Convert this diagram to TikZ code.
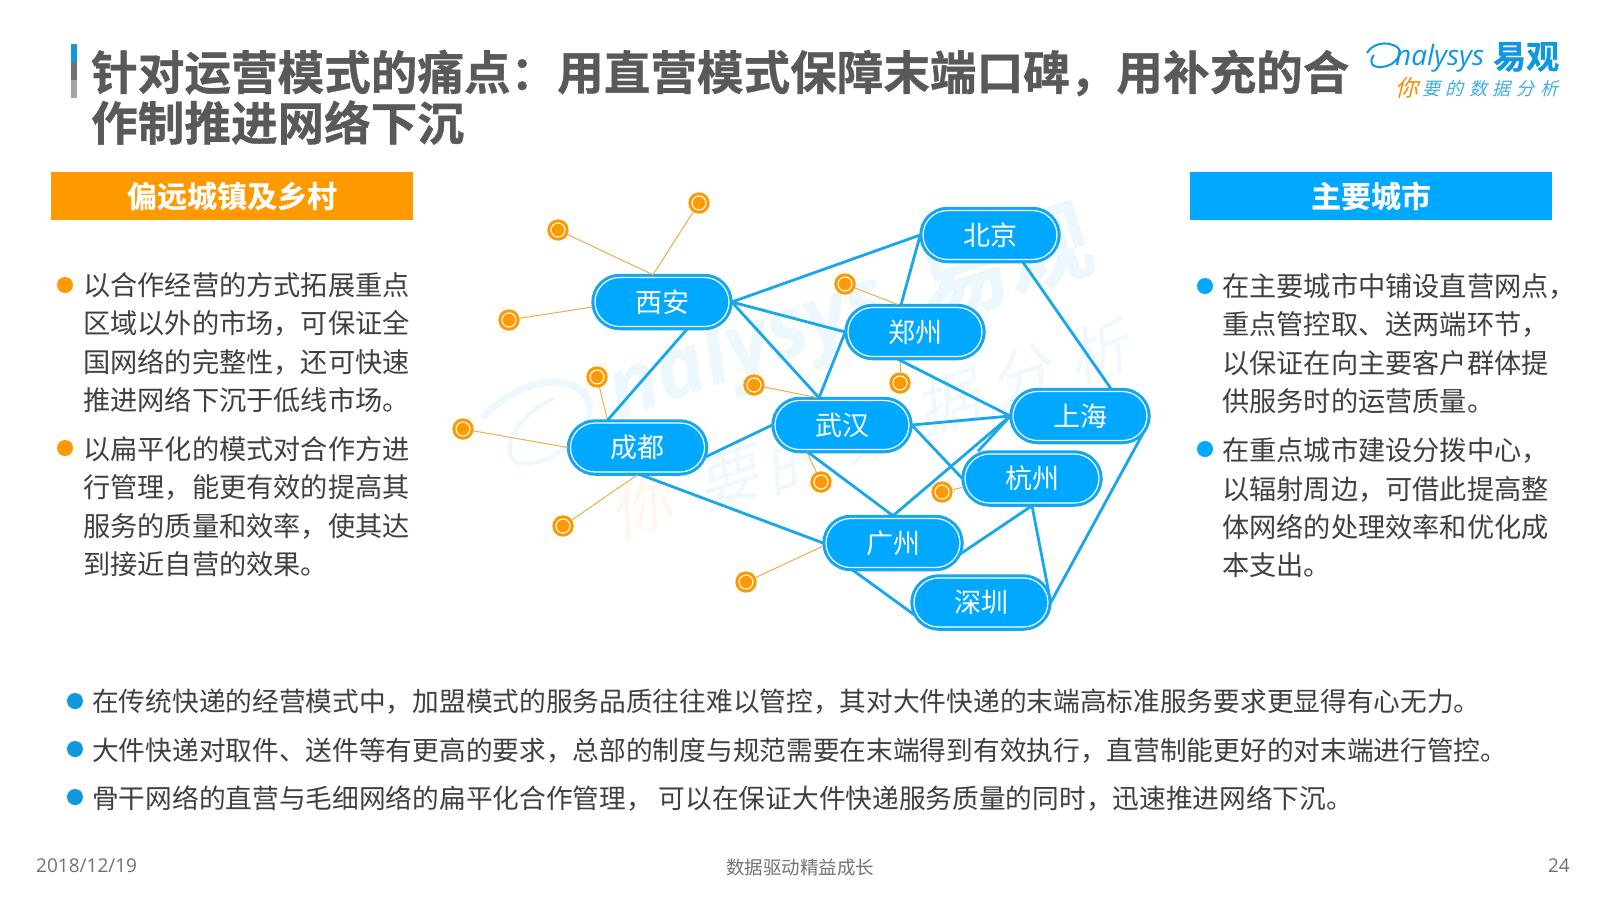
\documentclass[tikz,border=0pt]{standalone}
\usepackage{fontspec}
\setmainfont{Open Sans}
\newfontfamily\cjk{Noto Sans CJK SC}
\newfontfamily\cjkb[FakeBold=0.7]{Noto Sans CJK SC Bold}
\newfontfamily\cjkhead[FakeBold=0.4]{Noto Sans CJK SC Bold}
\newfontfamily\cjksl[FakeSlant=0.25]{Noto Sans CJK SC}
\newfontfamily\cjksls[FakeSlant=0.25,LetterSpace=31]{Noto Sans CJK SC}
\newfontfamily\lat{Open Sans}
\definecolor{blueA}{HTML}{00A8FF}
\definecolor{lineB}{HTML}{18A7EA}
\definecolor{blueD}{HTML}{0F98E0}
\definecolor{orangeA}{HTML}{FF9900}
\definecolor{olinec}{HTML}{F0AC4A}
\definecolor{greyT}{HTML}{595959}
\definecolor{greyP}{HTML}{404040}
\definecolor{greyL}{HTML}{A6A6A6}
\tikzset{
 x=1pt,y=-1pt,
 ringbox/.style={rectangle,rounded corners=27.5pt,minimum width=139.5pt,minimum height=54.5pt,outer sep=0pt,inner sep=0pt,fill=blueA,draw=lineB,line width=2pt},
 city/.style={rectangle,rounded corners=24.5pt,minimum width=134pt,minimum height=49pt,draw=white,line width=1.2pt,text=white,font=\cjk\fontsize{27}{27}\selectfont,inner sep=0pt},
 dotcore/.style={circle,minimum size=14pt,inner sep=0pt,fill=orangeA,draw=white,line width=1.1pt},
 dotring/.style={circle,minimum size=21.4pt,inner sep=0pt,outer sep=0pt,fill=orangeA},
 blink/.style={draw=lineB,line width=2.8pt},
 olink/.style={draw=olinec,line width=1pt},
 para/.style={anchor=north west,align=left,text=greyP,font=\cjk\fontsize{27.2}{38.4}\selectfont,inner sep=0pt},
 btxt/.style={anchor=west,text=greyP,font=\cjk\fontsize{26.7}{30}\selectfont,inner sep=0pt},
 head/.style={minimum width=362pt,minimum height=48pt,inner sep=0pt,text=white,font=\cjkhead\fontsize{30}{30}\selectfont},
 foot/.style={text=greyT!85!white,inner sep=0pt},
 wmark/.style={rotate=18,text=lineB,inner sep=0pt,opacity=.07,font=\cjksl\fontsize{62}{62}\selectfont},
}
\begin{document}
\begin{tikzpicture}
\useasboundingbox (0,0) rectangle (1600,900);
\fill[white] (0,0) rectangle (1600,900);
% watermark
\node[rotate=20,text=lineB,opacity=.08,font=\lat\itshape\bfseries\fontsize{84}{84}\selectfont,inner sep=0pt] (wm1) at (748,350) {nalysys};
\node[rotate=18,text=lineB,opacity=.08,font=\cjkhead\fontsize{88}{88}\selectfont,inner sep=0pt] (wm2) at (1005,263) {易观};
\node[wmark,text=orangeA] (wm3) at (640,507) {你};
\node[wmark] (wm4) at (727,480) {要};
\node[wmark] (wm5) at (793,463) {的};
\node[wmark] (wm6) at (870,432) {数};
\node[wmark] (wm7) at (947,403) {据};
\node[wmark] (wm8) at (1020,377) {分};
\node[wmark] (wm9) at (1097,353) {析};
\draw[lineB,opacity=.08,line width=7pt] (482,418) .. controls (525,372) and (585,372) .. (590,408);
\draw[lineB,opacity=.08,line width=4pt] (590,408) .. controls (590,445) and (525,478) .. (512,458) .. controls (502,440) and (525,410) .. (555,398);
% title
\fill[blueD] (71,44) rectangle (77,62);
\fill[greyT!85!white] (71,62) rectangle (77,80);
\fill[greyL] (71,80) rectangle (77,98);
\node[anchor=west,text=greyT,font=\cjkb\fontsize{46.6}{47}\selectfont,inner sep=0pt] (t1) at (91,73) {针对运营模式的痛点：用直营模式保障末端口碑，用补充的合};
\node[anchor=west,text=greyT,font=\cjkb\fontsize{46.6}{47}\selectfont,inner sep=0pt] (t2) at (91,122.5) {作制推进网络下沉};
% logo
\draw[blueD,line width=2pt] (1367,53) .. controls (1372,44) and (1386,40) .. (1397,47) .. controls (1404,52) and (1396,66) .. (1382,67) .. controls (1372,68) and (1368,62) .. (1374,55);
\node[anchor=west,text=blueD,font=\lat\itshape\fontsize{28}{28}\selectfont,inner sep=0pt] (l1) at (1395,58) {nalysys};
\node[anchor=west,text=blueD,font=\cjkb\fontsize{33}{33}\selectfont,inner sep=0pt] (l2) at (1493,57) {易观};
\node[anchor=center,text=orangeA!90!red,font=\cjksl\fontsize{23}{23}\selectfont,inner sep=0pt] (l3) at (1407,88) {你};
\node[anchor=west,text=blueD!80!white,font=\cjksls\fontsize{18}{18}\selectfont,inner sep=0pt] (l4) at (1422,89) {要的数据分析};
% headers
\node[head,fill=orangeA] (hl) at (232,196) {偏远城镇及乡村};
\node[head,fill=blueA] (hr) at (1371,196) {主要城市};
% paragraphs
\fill[orangeA] (65,285) circle (8);
\fill[orangeA] (65,448) circle (8);
\node[para] (pl1) at (83,272) {以合作经营的方式拓展重点\\区域以外的市场，可保证全\\国网络的完整性，还可快速\\推进网络下沉于低线市场。};
\node[para] (pl2) at (83,436) {以扁平化的模式对合作方进\\行管理，能更有效的提高其\\服务的质量和效率，使其达\\到接近自营的效果。};
\fill[blueA] (1205,286) circle (8);
\fill[blueA] (1205,449) circle (8);
\node[para] (pr1) at (1222,273) {在主要城市中铺设直营网点，\\重点管控取、送两端环节，\\以保证在向主要客户群体提\\供服务时的运营质量。};
\node[para] (pr2) at (1222,437.5) {在重点城市建设分拨中心，\\以辐射周边，可借此提高整\\体网络的处理效率和优化成\\本支出。};
% bullets
\fill[blueD] (75,701) circle (8);
\fill[blueD] (75,749) circle (8);
\fill[blueD] (75,797) circle (8);
\node[btxt] (b1) at (92,702) {在传统快递的经营模式中，加盟模式的服务品质往往难以管控，其对大件快递的末端高标准服务要求更显得有心无力。};
\node[btxt] (b2) at (92,750.5) {大件快递对取件、送件等有更高的要求，总部的制度与规范需要在末端得到有效执行，直营制能更好的对末端进行管控。};
\node[btxt] (b3) at (92,799) {骨干网络的直营与毛细网络的扁平化合作管理， 可以在保证大件快递服务质量的同时，迅速推进网络下沉。};
% footer
\node[foot,anchor=west,font=\lat\fontsize{19}{19}\selectfont] (f1) at (36,866) {2018/12/19};
\node[foot,font=\cjk\fontsize{18.5}{19}\selectfont] (f2) at (800,867.5) {数据驱动精益成长};
\node[foot,anchor=east,font=\lat\fontsize{19}{19}\selectfont] (f3) at (1570,866) {24};
% cities
\foreach \c/\p/\t in {xa/{662,302}/西安,cd/{637.5,447.5}/成都,wh/{842,425}/武汉,sh/{1080,416}/上海,hz/{1032,478.5}/杭州,gz/{893,543}/广州,sz/{981,602.5}/深圳,bj/{990,235}/北京,zz/{915,332}/郑州}{
  \node[ringbox] (\c) at (\p) {};
  \node[city] (t\c) at (\p) {\t};
}
% dots
\foreach \n/\p in {d1/{699,203},d2/{558,230},d3/{509,320},d4/{597,377},d5/{754,385},d6/{463,429},d7/{563,526},d8/{746,582},d9/{821,482},d10/{900,383},d11/{942,492},d12/{845,284}}{
  \node[dotring] (\n) at (\p) {};
  \node[dotcore] (c\n) at (\p) {};
}
% orange links
\draw[olink] (d1) -- ([xshift=-9]xa.north);
\draw[olink] (d2) -- ([xshift=-9]xa.north);
\draw[olink] (d3) -- ([yshift=-5]xa.west);
\draw[olink] (d4) -- ([xshift=-30]cd.north);
\draw[olink] (d5) -- ([xshift=-24]wh.north);
\draw[olink] (d6) -- (cd.west);
\draw[olink] (d7) -- (cd.south);
\draw[olink] (d8) -- ([yshift=-3]gz.west);
\draw[olink] (d9) -- ([xshift=-35]wh.south);
\draw[olink] (d10) -- ([xshift=-15]zz.south);
\draw[olink] (d11) -- ([yshift=-9]hz.west);
\draw[olink] (d12) -- ([xshift=-17]zz.north);
% blue links
\draw[blink] (xa.east) -- (bj.west);
\draw[blink] (xa.east) -- (zz.west);
\draw[blink] (xa.east) -- ([xshift=-23]wh.north);
\draw[blink] (zz.west) -- ([xshift=-23]wh.north);
\draw[blink] (bj.west) -- ([xshift=-14]zz.north);
\draw[blink] ([xshift=33]bj.south) -- ([xshift=31]sh.north);
\draw[blink] ([xshift=-17]zz.south) -- (sh.west);
\draw[blink] (wh.east) -- (sh.west);
\draw[blink] (wh.east) -- (hz.west);
\draw[blink] ([xshift=-34]wh.south) -- (gz.north);
\draw[blink] (gz.north) -- (sh.west);
\draw[blink] (sh.west) -- ([xshift=-54]hz.north);
\draw[blink] ([xshift=-4,yshift=-12]gz.east) -- (hz.south);
\draw[blink] (hz.south) -- (sz.east);
\draw[blink] ([xshift=-40]gz.south) -- ([xshift=4,yshift=-13]sz.west);
\draw[blink] (sz.east) -- ([xshift=-6,yshift=-16]sh.east);
\draw[blink] ([xshift=25]xa.south) -- ([xshift=-30]cd.north);
\draw[blink] ([xshift=-3,yshift=-10]cd.east) -- (wh.west);
\draw[blink] ([xshift=3]cd.south) -- (gz.west);
\end{tikzpicture}
\end{document}
